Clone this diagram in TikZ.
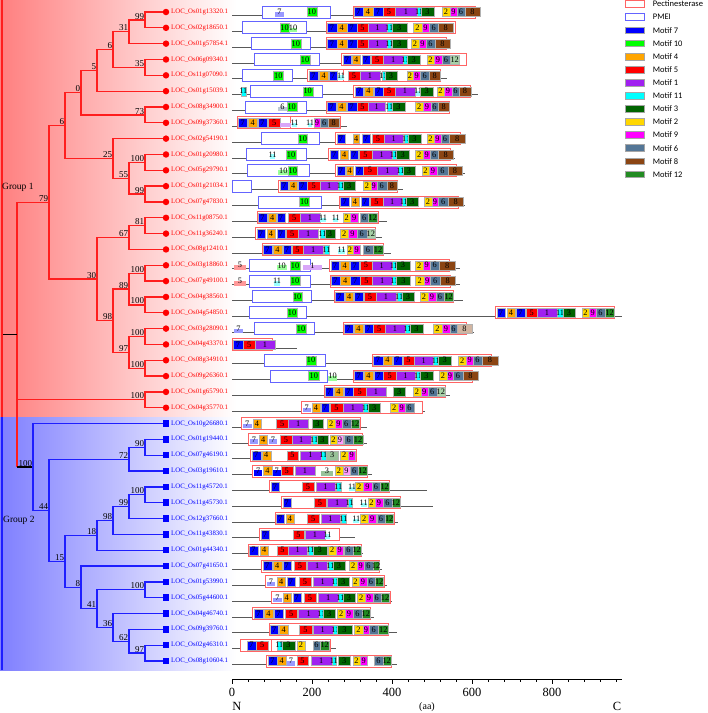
\documentclass[tikz,border=0pt]{standalone}
\usepackage{fontspec}
\setmainfont{Liberation Serif}
\newfontfamily\legfont{Carlito}
\definecolor{c1}{RGB}{160,32,240}
\definecolor{c2}{RGB}{255,215,0}
\definecolor{c3}{RGB}{0,100,0}
\definecolor{c4}{RGB}{255,165,0}
\definecolor{c5}{RGB}{255,0,0}
\definecolor{c6}{RGB}{84,118,150}
\definecolor{c7}{RGB}{0,0,255}
\definecolor{c8}{RGB}{139,69,19}
\definecolor{c9}{RGB}{255,0,255}
\definecolor{c10}{RGB}{0,255,0}
\definecolor{c11}{RGB}{0,255,255}
\definecolor{c12}{RGB}{34,139,34}
\definecolor{pectred}{RGB}{255,100,100}
\definecolor{pmeiblue}{RGB}{100,100,255}
\definecolor{treered}{RGB}{255,30,30}
\definecolor{treeblue}{RGB}{30,30,255}
\tikzset{
  e1/.style={treered, line width=1.3pt},
  e2/.style={treeblue, line width=1.3pt},
  bs/.style={font=\fontsize{9}{10}\selectfont, anchor=south east, inner sep=0.6pt},
  mlab/.style={font=\fontsize{8.3}{9}\selectfont, inner sep=0pt, text=black},
  mframe/.style={draw=black!30, line width=0.3pt},
  gline/.style={draw=black!65, line width=0.8pt},
  pectbox/.style={fill=white, draw=pectred, line width=0.9pt},
  pmeibox/.style={fill=white, draw=pmeiblue, line width=0.9pt},
  leafA/.style={circle, fill=red, inner sep=0pt, minimum size=6.5pt},
  leafB/.style={rectangle, fill=blue, inner sep=0pt, minimum size=6.5pt},
  labA/.style={anchor=west, inner sep=0pt, text=red, font=\fontsize{6.8}{7}\selectfont},
  labB/.style={anchor=west, inner sep=0pt, text=blue, font=\fontsize{6.8}{7}\selectfont},
  legtxt/.style={anchor=west, inner sep=0pt, font=\legfont\fontsize{8.5}{9}\selectfont},
  axlab/.style={font=\fontsize{12.5}{13}\selectfont, inner sep=0pt}
}
\newcommand\R[1]{\pgfmathsetmacro\ry{12+15.83*(#1-1)}}
\newcommand\gl[1]{\draw[gline] (232,\ry+3.5) -- (#1,\ry+3.5);}
\newcommand\pect[2]{\filldraw[pectbox] (#1,\ry-6) rectangle (#2,\ry+6);}
\newcommand\pmei[2]{\filldraw[pmeibox] (#1,\ry-6) rectangle (#2,\ry+6);}
\newcommand\mo[3]{\fill[c#3] (#1,\ry-4.5) rectangle (#2,\ry+4.5); \draw[mframe] (#1,\ry-4.5) rectangle (#2,\ry+4.5); \node[mlab] at ({(#1+#2)/2},\ry) {#3};}
\newcommand\pmo[3]{\fill[c#3!40] (#1,\ry) rectangle (#2,\ry+4.5); \node[mlab] at ({(#1+#2)/2},\ry) {#3};}
\newcommand\lmo[3]{\fill[c#3!40] (#1,\ry-4.5) rectangle (#2,\ry+4.5); \draw[mframe] (#1,\ry-4.5) rectangle (#2,\ry+4.5); \node[mlab] at ({(#1+#2)/2},\ry) {#3};}
\newcommand\smo[3]{\fill[c#3] (#1,\ry-1) rectangle (#2,\ry+4.5); \node[mlab] at ({(#1+#2)/2},\ry) {#3};}
\begin{document}
\begin{tikzpicture}[x=1pt,y=-1pt]
\useasboundingbox (0,0) rectangle (708,713);
\fill[white] (0,0) rectangle (708,713);
% backgrounds
\shade[left color=red!50, right color=white] (0,0) rectangle (236,417);
\shade[left color=blue!50, right color=white] (0,417) rectangle (236,670);
\draw[treered, line width=2.2pt] (2,0) -- (2,417);
\draw[treeblue, line width=2.2pt] (2,417) -- (2,670);
\node[font=\fontsize{9.5}{10}\selectfont, anchor=west, inner sep=0pt] (grp1) at (2,187) {Group 1};
\node[font=\fontsize{9.5}{10}\selectfont, anchor=west, inner sep=0pt] (grp2) at (3,520) {Group 2};
% leaves
\foreach \i/\nm in {1/01g13320,2/02g18650,3/01g57854,4/06g09340,5/11g07090,6/01g15039,7/08g34900,8/09g37360,9/02g54190,10/01g20980,11/05g29790,12/01g21034,13/07g47830,14/11g08750,15/11g36240,16/08g12410,17/03g18860,18/07g49100,19/04g38560,20/04g54850,21/03g28090,22/04g43370,23/08g34910,24/09g26360,25/01g65790,26/04g35770}{
  \pgfmathsetmacro\yy{12+15.83*(\i-1)}
  \coordinate (l\i) at (163,\yy);
  \node[leafA] (d\i) at (166,\yy) {};
  \node[labA] (t\i) at (171,\yy) {LOC\_Os\nm.1};
}
\foreach \i/\nm in {27/10g26680,28/01g19440,29/07g46190,30/03g19610,31/11g45720,32/11g45730,33/12g37660,34/11g43830,35/01g44340,36/07g41650,37/01g53990,38/05g44600,39/04g46740,40/09g39760,41/02g46310,42/08g10604}{
  \pgfmathsetmacro\yy{12+15.83*(\i-1)}
  \coordinate (l\i) at (163,\yy);
  \node[leafB] (d\i) at (166,\yy) {};
  \node[labB] (t\i) at (171,\yy) {LOC\_Os\nm.1};
}
% internal nodes
\coordinate (A) at (145,19.92);
\coordinate (B) at (129,31.79);
\coordinate (C) at (145,67.41);
\coordinate (D) at (113,49.60);
\coordinate (E) at (97,70.38);
\coordinate (F) at (145,114.90);
\coordinate (G) at (81,92.64);
\coordinate (H) at (145,162.39);
\coordinate (I) at (145,194.05);
\coordinate (J) at (129,178.22);
\coordinate (K) at (113,158.43);
\coordinate (L) at (65,125.54);
\coordinate (N) at (145,225.71);
\coordinate (O) at (129,237.58);
\coordinate (T) at (145,273.20);
\coordinate (U) at (145,304.86);
\coordinate (Rr) at (129,289.03);
\coordinate (V) at (145,336.52);
\coordinate (W) at (145,368.18);
\coordinate (S) at (129,352.35);
\coordinate (Q) at (113,320.69);
\coordinate (P) at (97,279.14);
\coordinate (M) at (49,202.34);
\coordinate (X) at (145,399.84);
\coordinate (g90) at (145,447.33);
\coordinate (g72) at (129,459.20);
\coordinate (ga) at (145,494.82);
\coordinate (g99) at (129,506.69);
\coordinate (g98) at (113,520.54);
\coordinate (g18) at (97,535.38);
\coordinate (gb) at (145,589.80);
\coordinate (g97) at (145,653.12);
\coordinate (g62) at (129,641.25);
\coordinate (g36) at (113,627.40);
\coordinate (g41) at (97,608.60);
\coordinate (g8) at (81,587.33);
\coordinate (g15) at (65,561.36);
\coordinate (g44) at (49,510.28);
\coordinate (g100) at (33,466.93);
\coordinate (root) at (17,334.6);
\coordinate (stub) at (3,334.6);
% group 1 edges
\draw[e1] (l1) -| (A) |- (l2);
\draw[e1] (A) -| (B) |- (l3);
\draw[e1] (l4) -| (C) |- (l5);
\draw[e1] (B) -| (D) |- (C);
\draw[e1] (D) -| (E) |- (l6);
\draw[e1] (l7) -| (F) |- (l8);
\draw[e1] (E) -| (G) |- (F);
\draw[e1] (l10) -| (H) |- (l11);
\draw[e1] (l12) -| (I) |- (l13);
\draw[e1] (H) -| (J) |- (I);
\draw[e1] (l9) -| (K) |- (J);
\draw[e1] (G) -| (L) |- (K);
\draw[e1] (l14) -| (N) |- (l15);
\draw[e1] (N) -| (O) |- (l16);
\draw[e1] (l17) -| (T) |- (l18);
\draw[e1] (l19) -| (U) |- (l20);
\draw[e1] (T) -| (Rr) |- (U);
\draw[e1] (l21) -| (V) |- (l22);
\draw[e1] (l23) -| (W) |- (l24);
\draw[e1] (V) -| (S) |- (W);
\draw[e1] (Rr) -| (Q) |- (S);
\draw[e1] (O) -| (P) |- (Q);
\draw[e1] (L) -| (M) |- (P);
\draw[e1] (l25) -| (X) |- (l26);
\draw[e1] (M) -| (root) |- (X);
\draw[e1] (root) -- (root |- g100);
\draw[black, line width=1.3pt] (root |- g100) -- (g100);
\draw[black, line width=1.3pt] (stub) -- (root);
% group 2 edges
\draw[e2] (l28) -| (g90) |- (l29);
\draw[e2] (g90) -| (g72) |- (l30);
\draw[e2] (l31) -| (ga) |- (l32);
\draw[e2] (ga) -| (g99) |- (l33);
\draw[e2] (g99) -| (g98) |- (l34);
\draw[e2] (g98) -| (g18) |- (l35);
\draw[e2] (l37) -| (gb) |- (l38);
\draw[e2] (l41) -| (g97) |- (l42);
\draw[e2] (l40) -| (g62) |- (g97);
\draw[e2] (l39) -| (g36) |- (g62);
\draw[e2] (gb) -| (g41) |- (g36);
\draw[e2] (l36) -| (g8) |- (g41);
\draw[e2] (g18) -| (g15) |- (g8);
\draw[e2] (g72) -| (g44) |- (g15);
\draw[e2] (l27) -| (g100) |- (g44);
% bootstrap values
\foreach \n/\v in {A/99,B/31,C/35,D/6,E/5,F/73,G/0,H/100,I/99,J/55,K/25,L/6,M/79,N/81,O/67,P/30,Q/98,Rr/89,S/97,T/100,U/100,V/100,W/100,X/100,g90/90,g72/72,ga/100,g99/99,g98/98,g18/18,gb/100,g97/97,g62/62,g36/36,g41/41,g8/8,g15/15,g44/44,g100/100}{
  \node[bs] (b\n) at (\n) {\v};
}
% ---------- motif rows ----------
\R{1}\gl{481}\pmei{262}{330}\pmo{275}{284}{7}\mo{307}{316.7}{10}\pect{353}{475}
\mo{354}{363}{7}\mo{363}{373}{4}\mo{373}{383}{7}\mo{383}{395}{5}\mo{395}{417}{1}\mo{417}{421}{11}\mo{421}{434}{3}\mo{442}{450}{2}\mo{450}{457}{9}\mo{457}{465}{6}\mo{465}{480}{8}
\R{2}\gl{455}\pmei{242.7}{306}\mo{280}{289}{10}\pmo{289}{297}{10}\pect{326}{455}
\mo{327.3}{336.7}{7}\mo{336.7}{346.7}{4}\mo{346.7}{356.7}{7}\mo{356.7}{368.3}{5}\mo{368.3}{386.7}{1}\mo{386.7}{391.7}{11}\mo{391.7}{406.7}{3}\mo{413.3}{421.7}{2}\mo{421.7}{429}{9}\mo{429}{438.3}{6}\mo{438.3}{453}{8}
\R{3}\gl{451}\pmei{251.7}{310}\mo{291}{300.7}{10}\pect{326}{446}
\mo{327.3}{336.7}{7}\mo{336.7}{346.7}{4}\mo{346.7}{356.7}{7}\mo{356.7}{368.3}{5}\mo{368.3}{386.7}{1}\mo{387.5}{391.5}{11}\mo{391.7}{406.7}{3}\mo{410.7}{419}{2}\mo{419}{425.7}{9}\mo{425.7}{435}{6}\mo{435}{450}{8}
\R{4}\gl{465}\pmei{254.3}{319.3}\mo{300}{310}{10}\pect{341}{466}
\mo{342.7}{351}{7}\mo{352.3}{360}{4}\mo{361.7}{370}{7}\mo{371}{383.3}{5}\mo{383.3}{403.3}{1}\mo{403.3}{407.3}{11}\mo{407.3}{420}{3}\mo{426.7}{434.3}{2}\mo{434.3}{441.7}{9}\mo{441.7}{450}{6}\lmo{450}{459.3}{12}
\R{5}\gl{446.7}\pmei{242.3}{292.7}\mo{273.3}{283.3}{10}\pect{307}{344}\pect{343}{440}
\mo{309.3}{317.7}{7}\mo{319.3}{328.3}{4}\mo{329.3}{337.3}{7}\pmo{338.3}{344}{11}\mo{347.7}{360}{5}\mo{360}{380}{1}\mo{381.7}{385}{11}\mo{385}{396.7}{3}\mo{406.7}{413.3}{2}\mo{413.3}{420}{9}\mo{420}{429.3}{6}\mo{429.3}{440}{8}
\R{6}\gl{477.7}\mo{240.7}{246}{11}\pmei{250}{322.3}\mo{302.7}{312.7}{10}\pect{353.3}{470}
\mo{355}{363.3}{7}\mo{364.3}{372.7}{4}\mo{374}{382.7}{7}\mo{383.3}{395}{5}\mo{395}{415}{1}\pmo{416}{420}{11}\mo{420}{433.3}{3}\mo{436.7}{444}{2}\mo{444}{451.7}{9}\mo{451.7}{459.3}{6}\mo{459.3}{470.7}{8}
\R{7}\gl{450}\pmei{245.7}{306.7}\pmo{278.3}{286.7}{6}\mo{286.7}{296.7}{10}\pect{326}{449.3}
\mo{327.3}{336}{7}\mo{336.7}{346}{4}\mo{346.7}{356.7}{7}\mo{356.7}{368.3}{5}\mo{368.3}{385}{1}\mo{386.7}{391.7}{11}\mo{391.7}{405}{3}\mo{415}{423.3}{2}\mo{423.3}{430.7}{9}\mo{430.7}{438.3}{6}\mo{438.3}{449}{8}
\R{8}\gl{346.7}\pect{237.3}{292.7}\pect{290.7}{340}
\mo{238.3}{247.3}{7}\mo{248.3}{257.3}{4}\mo{258.3}{266.7}{7}\mo{268.3}{280}{5}\fill[c1!40] (280,\ry) rectangle (290.7,\ry+4.5);\pmo{291.7}{297.3}{11}\pmo{308.3}{311.7}{11}\mo{314}{320}{9}\mo{320}{328.3}{6}\mo{328.3}{339.3}{8}
\R{9}\gl{465}\pmei{261.7}{319}\mo{298.3}{307.3}{10}\pect{335.7}{460}
\mo{336.7}{345}{7}\mo{353.3}{359.3}{4}\mo{361.7}{370}{7}\mo{371.7}{384}{5}\mo{384}{403.3}{1}\mo{404}{408.3}{11}\mo{408.3}{420.7}{3}\mo{426.7}{434.3}{2}\mo{434.3}{440.7}{9}\mo{440.7}{449.3}{6}\mo{449.3}{465}{8}
\R{10}\gl{455}\pmei{246.7}{306.7}\pmo{270}{275}{11}\mo{286}{296}{10}\pect{328.3}{450}
\mo{330}{338.3}{7}\mo{340}{348.3}{4}\mo{350}{358.3}{7}\mo{359.3}{371.7}{5}\mo{371.7}{391.7}{1}\mo{391.7}{396}{11}\mo{396}{409.3}{3}\mo{415}{423.3}{2}\mo{423.3}{430}{9}\mo{430}{438.3}{6}\mo{438.3}{453.3}{8}
\R{11}\gl{465}\pmei{247.3}{309.3}\pmo{278.3}{288.3}{10}\mo{288.3}{297.3}{10}\pect{335}{456}
\mo{336.7}{345}{7}\mo{346}{353.3}{4}\mo{355}{363.3}{7}\mo{363.3}{376.7}{5}\mo{376.7}{398.3}{1}\mo{398.3}{402.7}{11}\mo{402.7}{415}{3}\mo{421.7}{429.3}{2}\mo{429.3}{436.7}{9}\mo{436.7}{448.3}{6}\mo{448.3}{461.7}{8}
\R{12}\gl{402.7}\pmei{232.3}{251.7}\pect{278.3}{397.7}
\mo{280}{288.3}{7}\mo{289.3}{297.3}{4}\mo{298.3}{306.7}{7}\mo{307.3}{320}{5}\mo{320}{338.3}{1}\mo{338.3}{343.3}{11}\mo{343.3}{355}{3}\mo{363.3}{370.7}{2}\mo{370.7}{376.7}{9}\mo{376.7}{386.7}{6}\mo{386.7}{397.3}{8}
\R{13}\gl{465}\pmei{258.3}{321}\mo{299.3}{309.3}{10}\pect{339}{458}
\mo{340}{349.3}{7}\mo{350.7}{359.3}{4}\mo{360.7}{369.3}{7}\mo{370}{382.7}{5}\mo{382.7}{401.7}{1}\mo{401.7}{406}{11}\mo{406}{418.3}{3}\mo{424}{431.7}{2}\mo{431.7}{438.3}{9}\mo{438.3}{448.3}{6}\mo{448.3}{463}{8}
\R{14}\gl{386.7}\pect{257.3}{378.3}
\mo{258.3}{266.7}{7}\mo{268.3}{276}{4}\mo{276.7}{285}{7}\mo{288.3}{300}{5}\mo{300}{320}{1}\pmo{320}{326}{11}\pmo{333.3}{338.3}{11}\mo{343.3}{350}{2}\mo{350}{358.3}{9}\mo{360}{368.3}{6}\mo{368.3}{377.3}{12}
\R{15}\gl{381.7}\pect{255.7}{375.7}
\mo{256.7}{265}{7}\mo{266.7}{275}{4}\mo{276.7}{285}{7}\mo{286}{298.3}{5}\mo{298.3}{318.3}{1}\mo{320}{325}{11}\mo{325}{335}{3}\mo{340}{348.3}{2}\mo{348.3}{356.7}{9}\mo{356.7}{366.7}{6}\lmo{366.7}{375}{12}
\R{16}\gl{390.7}\pect{262.3}{383.3}
\mo{263.3}{271.7}{7}\mo{273.3}{281.7}{4}\mo{283.3}{290.7}{7}\mo{291.7}{303.3}{5}\mo{303.3}{323.3}{1}\mo{324}{329.3}{11}\pmo{338.3}{345}{11}\mo{346.7}{353.3}{2}\mo{353.3}{360}{9}\mo{363.3}{372.7}{6}\mo{373.3}{382.7}{12}
\R{17}\gl{460}\pmo{234}{246}{5}\pmei{249.3}{310}\pmo{276.7}{286.7}{10}\mo{290}{300}{10}\pmo{303.3}{321.7}{1}\pect{329.3}{449.3}
\mo{330.7}{339.3}{7}\mo{340}{349.3}{4}\mo{350}{359.3}{7}\mo{360}{371.7}{5}\mo{371.7}{391.7}{1}\mo{391.7}{396}{11}\mo{396}{410}{3}\mo{415}{423.3}{2}\mo{423.3}{430}{9}\mo{430}{439.3}{6}\mo{439.3}{455}{8}
\R{18}\gl{460}\pmo{234}{246}{5}\pmei{249.3}{310}\pmo{274}{280}{11}\mo{290}{300}{10}\pect{330}{450}
\mo{331.2}{339.8}{7}\mo{340.5}{349.8}{4}\mo{350.5}{359.8}{7}\mo{360.5}{372.2}{5}\mo{372.2}{392.2}{1}\mo{392.2}{396.5}{11}\mo{396.5}{410.5}{3}\mo{415.5}{423.8}{2}\mo{423.8}{430.5}{9}\mo{430.5}{439.8}{6}\mo{439.8}{455.5}{8}
\R{19}\gl{463.3}\pmei{252.3}{311.7}\mo{292.7}{301.7}{10}\pect{334.3}{453.3}
\mo{335}{344}{7}\mo{345}{353.3}{4}\mo{354.3}{362.7}{7}\mo{364}{376}{5}\mo{376}{396}{1}\mo{396.7}{401.7}{11}\mo{401.7}{414}{3}\mo{420}{427.7}{2}\mo{427.7}{436}{9}\mo{436}{444}{6}\mo{444}{453.3}{12}
\R{20}\gl{621.7}\pmei{249}{306.7}\mo{286.7}{297.3}{10}\pect{495.7}{614.3}
\mo{496.7}{505}{7}\mo{506.7}{515}{4}\mo{516}{525}{7}\mo{526}{537.3}{5}\mo{537.3}{556.7}{1}\mo{557.3}{562.7}{11}\mo{562.7}{575}{3}\mo{581.7}{589.3}{2}\mo{589.3}{596}{9}\mo{596}{605}{6}\mo{605}{614}{12}
\R{21}\gl{474}\pmo{234}{242.7}{7}\pmei{254.3}{314.3}\mo{296}{306}{10}\pect{343.3}{466.7}
\mo{344}{352.7}{7}\mo{354}{362.7}{4}\mo{364}{372.7}{7}\mo{373.3}{385}{5}\mo{385}{405}{1}\mo{405}{410}{11}\mo{410}{422.7}{3}\mo{433.3}{441.7}{2}\mo{441.7}{450}{9}\mo{450}{457}{6}\lmo{457}{471.7}{8}
\R{22}\gl{296.7}\pect{232.3}{272.7}
\mo{233.3}{242.7}{7}\mo{243.3}{255}{5}\mo{255}{275}{1}
\R{23}\gl{498.3}\pmei{264}{325}\mo{306}{316}{10}\pect{372.3}{491.7}
\mo{373.3}{382.7}{7}\mo{383.3}{391.7}{4}\mo{392.7}{401.7}{7}\mo{402.7}{414}{5}\mo{414}{433.3}{1}\mo{433.3}{438.3}{11}\mo{438.3}{451}{3}\mo{458.3}{466}{2}\mo{466}{473.3}{9}\mo{473.3}{481.7}{6}\mo{481.7}{498.3}{8}
\R{24}\gl{479.3}\pmei{270}{327.3}\mo{308.3}{319.3}{10}\pmo{328.3}{336.7}{10}\pect{353.3}{472.7}
\mo{354}{363.3}{7}\mo{364}{372.7}{4}\mo{374}{382.7}{7}\mo{383.3}{396}{5}\mo{396}{415}{1}\mo{416}{420}{11}\mo{420}{432.7}{3}\mo{439.3}{446.7}{2}\mo{446.7}{453.3}{9}\mo{453.3}{462.7}{6}\mo{462.7}{478.3}{8}
\R{25}\gl{450}\pect{324}{445.7}
\mo{325}{333.3}{7}\mo{334.3}{342.7}{4}\mo{344}{352.7}{7}\mo{353.3}{366}{5}\mo{366}{386}{1}\mo{393.3}{405}{3}\mo{413.3}{420.7}{2}\mo{420.7}{427.7}{9}\mo{427.7}{436.7}{6}\lmo{436.7}{445}{12}
\R{26}\gl{425}\pect{301.7}{422.3}
\pmo{302.7}{310.7}{7}\mo{311.7}{320}{4}\mo{320.7}{329.3}{7}\mo{330}{342.7}{5}\mo{342.7}{363.3}{1}\mo{363.3}{368.3}{11}\mo{368.3}{380}{3}\mo{390}{398.3}{2}\mo{398.3}{405}{9}\mo{405}{414}{6}
\R{27}\gl{366.7}\pect{241}{360}
\pmo{242.7}{251.7}{7}\mo{252.7}{261}{4}\mo{276}{288.3}{5}\mo{288.3}{308.3}{1}\mo{311.7}{323.3}{3}\mo{327.3}{335}{2}\mo{335}{341.7}{9}\mo{341.7}{350.7}{6}\mo{350.7}{359.3}{12}
\R{28}\gl{366.7}\pect{248.3}{362.7}
\pmo{250}{257.7}{7}\mo{259.3}{267.3}{4}\pmo{269.3}{276.7}{7}\mo{280}{291.7}{5}\mo{291.7}{310.7}{1}\mo{311.7}{316.7}{11}\mo{316.7}{328.3}{3}\mo{330}{336.7}{2}\lmo{336.7}{343.3}{9}\mo{344}{353.3}{6}\mo{353.3}{362.7}{12}
\R{29}\gl{356.7}\pect{250.7}{356}
\mo{251.7}{260.7}{7}\mo{261.7}{270.7}{4}\mo{286.7}{298.3}{5}\mo{300}{320.7}{1}\mo{320.7}{326}{11}\lmo{326}{338.3}{3}\mo{340}{348.3}{2}\mo{348.3}{355}{9}
\R{30}\gl{371.7}\pect{252.7}{367.3}
\smo{254}{262.3}{7}\mo{263.3}{271.7}{4}\smo{272.7}{280.7}{7}\mo{280.7}{292.7}{5}\mo{295}{315}{1}\pmo{320.7}{333.3}{3}\mo{335}{342.7}{2}\lmo{342.7}{350}{9}\mo{350}{358.3}{6}\mo{358.3}{366.7}{12}
\R{31}\gl{426.7}\pect{269.3}{389.3}
\mo{270.7}{279.3}{7}\mo{301.7}{314}{5}\mo{316}{335}{1}\mo{336}{340.7}{11}\pmo{349.3}{355}{11}\mo{355}{363.3}{2}\mo{363.3}{371.7}{9}\mo{371.7}{380}{6}\mo{380}{389.3}{12}
\R{32}\gl{433.3}\pect{281.7}{400.7}
\mo{282.7}{290.7}{7}\mo{314}{326}{5}\mo{327.3}{347.3}{1}\mo{347.7}{351.7}{11}\pmo{360.7}{366.7}{11}\mo{367.7}{375}{2}\mo{375}{382.7}{9}\mo{383.3}{391.7}{6}\mo{391.7}{400}{12}
\R{33}\gl{398.3}\pect{275}{394}
\mo{276}{284.3}{7}\mo{285.7}{294}{4}\mo{307.3}{319.3}{5}\mo{320.7}{340}{1}\mo{341}{346}{11}\pmo{353.3}{359.3}{11}\mo{360}{368.3}{2}\mo{368.3}{376}{9}\mo{376.7}{385}{6}\mo{385}{393.3}{12}
\R{34}\gl{355}\pect{259}{339}
\mo{260.7}{269.3}{7}\mo{292.7}{304}{5}\mo{305}{325}{1}\pmo{325}{330}{11}
\R{35}\gl{362.7}\pect{248.3}{361.7}
\mo{249.3}{257.7}{7}\mo{260}{268.3}{4}\mo{276.7}{288.3}{5}\mo{288.3}{307.3}{1}\mo{308.3}{312.7}{11}\mo{312.7}{326.7}{3}\mo{328.3}{336}{2}\mo{336}{343.3}{9}\mo{344}{352.7}{6}\mo{352.7}{360.7}{12}
\R{36}\gl{381.7}\pect{261.7}{379.3}
\mo{262.7}{271.7}{7}\mo{272.7}{281.7}{4}\mo{282.7}{290.7}{7}\mo{294}{306}{5}\mo{307.3}{327.3}{1}\mo{328.3}{332.7}{11}\mo{332.7}{345}{3}\mo{349.3}{357.3}{2}\mo{357.3}{364}{9}\mo{364}{372.7}{6}\mo{372.7}{379.3}{12}
\R{37}\gl{386.7}\pect{265.7}{384}
\pmo{266.7}{275}{7}\mo{277.3}{285}{4}\mo{286.7}{295}{7}\mo{299.3}{310.7}{5}\mo{312.7}{332.7}{1}\mo{333.3}{337.3}{11}\mo{337.3}{349.3}{3}\mo{351.7}{359.3}{2}\mo{359.3}{366.7}{9}\mo{366.7}{375}{6}\mo{375}{383.3}{12}
\R{38}\gl{391.7}\pect{271.7}{390}
\pmo{273.3}{281.7}{7}\mo{282.7}{290.7}{4}\mo{292.7}{300.7}{7}\mo{304}{316}{5}\mo{318.3}{338.3}{1}\mo{338.3}{342.7}{11}\mo{342.7}{355}{3}\mo{357.3}{365}{2}\mo{365}{372.7}{9}\mo{372.7}{380.7}{6}\mo{380.7}{389.3}{12}
\R{39}\gl{374}\pect{252.7}{370.7}
\mo{254}{262.7}{7}\mo{264}{272.7}{4}\mo{274}{282.7}{7}\mo{285}{297.3}{5}\mo{298.3}{319.3}{1}\mo{319.3}{323.3}{11}\mo{323.3}{335}{3}\mo{337.3}{345}{2}\mo{345}{352.7}{9}\mo{353.3}{361.7}{6}\mo{361.7}{370}{12}
\R{40}\gl{396.7}\pect{269.3}{388.3}
\mo{270}{278.3}{7}\mo{279.3}{288.3}{4}\mo{299.3}{311.7}{5}\mo{312.7}{332.7}{1}\mo{333.3}{337.3}{11}\mo{337.3}{351.7}{3}\mo{354}{362.7}{2}\mo{362.7}{369.3}{9}\mo{369.3}{378.3}{6}\mo{378.3}{388.3}{12}
\R{41}\gl{336}\pect{240.7}{273.3}\pect{271.7}{330}
\mo{246.7}{256}{7}\mo{256}{268.3}{5}\mo{277}{281.7}{11}\mo{281.7}{295}{3}\mo{296.7}{305}{2}\mo{312.7}{320}{6}\mo{320}{329.3}{12}
\R{42}\gl{397.3}\pect{266.7}{391.7}
\mo{268.3}{276.7}{7}\mo{277.3}{286}{4}\pmo{286.7}{295}{7}\mo{296.7}{308.3}{5}\mo{310.7}{331.7}{1}\mo{331.7}{336}{11}\mo{338.3}{350}{3}\mo{352.7}{360}{2}\mo{360}{367.3}{9}\mo{374}{382.7}{6}\mo{382.7}{390.7}{12}
% ---------- axis ----------
\coordinate (ax0) at (232,679);
\coordinate (ax1) at (621.7,679);
\draw[black, line width=0.8pt] (ax0) -- (ax1);
\foreach \i in {0,...,24}{\draw[black, line width=0.6pt] (232+16*\i,679) -- ++(0,3);}
\foreach \v in {0,200,400,600,800}{
  \draw[black, line width=0.6pt] (232+0.4*\v,679) -- ++(0,4.5);
  \node[axlab] (tk\v) at (232+0.4*\v,692) {\v};
}
\node[axlab] (nN) at (237,706) {N};
\node[font=\fontsize{10}{11}\selectfont, inner sep=0pt] (naa) at (427,707) {(aa)};
\node[axlab] (nC) at (617,706) {C};
% ---------- legend ----------
\filldraw[fill=white, draw=pectred, line width=0.9pt] (625.7,0.7) rectangle (644.3,7.3);
\node[legtxt] (lg0) at (652.7,4) {Pectinesterase};
\filldraw[fill=white, draw=pmeiblue, line width=0.9pt] (625.7,13.4) rectangle (644.3,20);
\node[legtxt] (lg1) at (652.7,16.7) {PMEI};
\foreach \k/\c in {2/7,3/10,4/4,5/5,6/1,7/11,8/3,9/2,10/9,11/6,12/8,13/12}{
  \pgfmathsetmacro\ly{4+13.1*\k}
  \filldraw[fill=c\c, draw=black!35, line width=0.6pt] (625.7,\ly-3.4) rectangle (644.3,\ly+3.4);
  \node[legtxt] (lg\k) at (652.7,\ly) {Motif \c};
}
\end{tikzpicture}
\end{document}
